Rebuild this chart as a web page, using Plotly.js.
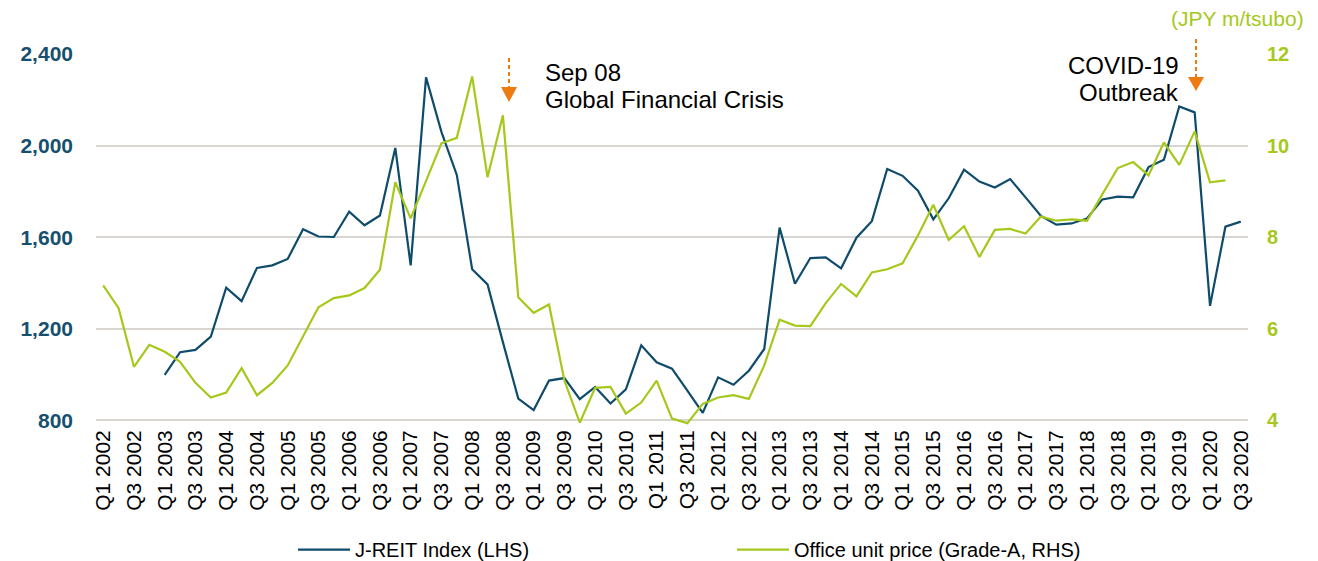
<!DOCTYPE html>
<html>
<head>
<meta charset="utf-8">
<script src="https://cdn.plot.ly/plotly-3.0.1.min.js"></script>
<style>html,body{margin:0;padding:0;background:#fff;}#chart{width:1318px;height:561px;}</style>
</head>
<body>
<div id="chart"></div>
<script>
const quarters = [
"Q1 2002","Q2 2002","Q3 2002","Q4 2002","Q1 2003","Q2 2003","Q3 2003","Q4 2003",
"Q1 2004","Q2 2004","Q3 2004","Q4 2004","Q1 2005","Q2 2005","Q3 2005","Q4 2005",
"Q1 2006","Q2 2006","Q3 2006","Q4 2006","Q1 2007","Q2 2007","Q3 2007","Q4 2007",
"Q1 2008","Q2 2008","Q3 2008","Q4 2008","Q1 2009","Q2 2009","Q3 2009","Q4 2009",
"Q1 2010","Q2 2010","Q3 2010","Q4 2010","Q1 2011","Q2 2011","Q3 2011","Q4 2011",
"Q1 2012","Q2 2012","Q3 2012","Q4 2012","Q1 2013","Q2 2013","Q3 2013","Q4 2013",
"Q1 2014","Q2 2014","Q3 2014","Q4 2014","Q1 2015","Q2 2015","Q3 2015","Q4 2015",
"Q1 2016","Q2 2016","Q3 2016","Q4 2016","Q1 2017","Q2 2017","Q3 2017","Q4 2017",
"Q1 2018","Q2 2018","Q3 2018","Q4 2018","Q1 2019","Q2 2019","Q3 2019","Q4 2019",
"Q1 2020","Q2 2020","Q3 2020"];

const tickLabels = [
"Q1 2002","Q3 2002","Q1 2003","Q3 2003","Q1 2004","Q3 2004","Q1 2005","Q3 2005",
"Q1 2006","Q3 2006","Q1 2007","Q3 2007","Q1 2008","Q3 2008","Q1 2009","Q3 2009",
"Q1 2010","Q3 2010","Q1 2011","Q3 2011","Q1 2012","Q3 2012","Q1 2013","Q3 2013",
"Q1 2014","Q3 2014","Q1 2015","Q3 2015","Q1 2016","Q3 2016","Q1 2017","Q3 2017",
"Q1 2018","Q3 2018","Q1 2019","Q3 2019","Q1 2020","Q3 2020"];

const jreitIndex = [null,null,null,null,
999,1098,1108,1166,1380,1321,1466,1477,1505,1635,1603,1601,1711,1652,1695,1990,
1477,2298,2060,1872,1460,1394,1142,895,845,974,985,893,946,874,936,1128,
1054,1026,930,833,988,956,1017,1112,1642,1397,1509,1512,1464,1598,1670,1898,
1868,1803,1678,1770,1895,1843,1817,1854,1774,1693,1655,1660,1682,1765,1777,1774,
1906,1938,2171,2145,1300,1646,1668];

const officePrice = [
6.95,6.45,5.17,5.65,5.50,5.28,4.82,4.50,4.61,5.14,4.55,4.82,5.20,5.83,6.47,6.67,
6.73,6.89,7.29,9.20,8.41,9.23,10.05,10.17,11.51,9.31,10.66,6.69,6.35,6.53,4.87,3.95,
4.71,4.73,4.15,4.39,4.87,4.04,3.94,4.36,4.50,4.55,4.47,5.20,6.20,6.07,6.06,6.56,
6.98,6.71,7.23,7.30,7.43,8.04,8.71,7.94,8.24,7.57,8.16,8.18,8.08,8.45,8.36,8.39,
8.36,8.94,9.51,9.64,9.35,10.07,9.58,10.31,9.20,9.24,null];

const leftTicks = [800,1200,1600,2000,2400];
const rightTicks = [4,6,8,10,12];

const BLUE = "#0F4C6B";
const GREEN = "#A6C81C";
const ORANGE = "#EE7A12";
const GRID = "#D9D6D1";
const FONT = "Liberation Sans, Arial, sans-serif";

// layout geometry (pixels)
const W = 1318, H = 561;
const PL = 96, PR = 1248, PT = 54, PB = 424.6;
const px = x => (x - PL) / (PR - PL);
const py = y => (PB - y) / (PB - PT);

const traces = [
  {x: quarters, y: jreitIndex, name: "J-REIT Index (LHS)", type: "scatter", mode: "lines",
   line: {color: BLUE, width: 2.2}, yaxis: "y", connectgaps: false},
  {x: quarters, y: officePrice, name: "Office unit price (Grade-A, RHS)", type: "scatter", mode: "lines",
   line: {color: GREEN, width: 2.2}, yaxis: "y2", connectgaps: false}
];

function arrow(xp, y0, y1, y2) {
  return [
    {type: "line", xref: "paper", yref: "paper", x0: px(xp), x1: px(xp), y0: py(y0), y1: py(y1),
     line: {color: ORANGE, width: 2, dash: "4px,3px"}},
    {type: "path", xref: "paper", yref: "paper",
     path: `M ${px(xp-8)} ${py(y1)} L ${px(xp+8)} ${py(y1)} L ${px(xp)} ${py(y2)} Z`,
     fillcolor: ORANGE, line: {width: 0}}
  ];
}

function label(text, x, baseline, anchor, size, color) {
  return {xref: "paper", yref: "paper", x: px(x), y: py(baseline - 0.32 * size),
          xanchor: anchor, yanchor: "middle", text: text, showarrow: false,
          font: {family: FONT, size: size, color: color || "#000"}};
}

const layout = {
  width: W, height: H,
  margin: {l: PL, r: W - PR, t: PT, b: H - PB, pad: 0, autoexpand: false},
  paper_bgcolor: "#fff", plot_bgcolor: "#fff",
  font: {family: FONT, size: 20, color: "#000"},
  showlegend: true,
  legend: {orientation: "h", x: px(293), xanchor: "left", y: py(549), yanchor: "middle",
           font: {family: FONT, size: 20, color: "#000"}, entrywidth: 372, entrywidthmode: "pixels",
           itemwidth: 52, bgcolor: "rgba(0,0,0,0)"},
  xaxis: {type: "category", categoryorder: "array", categoryarray: quarters,
          range: [-0.47, 74.47], tickmode: "array", tickvals: tickLabels, ticktext: tickLabels,
          tickangle: -90, tickfont: {family: FONT, size: 21, color: "#000"}, automargin: false,
          showgrid: false, zeroline: false, showline: false, ticks: "", fixedrange: true},
  yaxis: {range: [780, 2400], tickmode: "array", tickvals: leftTicks, tickformat: ",",
          showgrid: true, gridcolor: GRID, gridwidth: 2, zeroline: false, showline: false, ticks: "",
          ticklabelstandoff: 22, automargin: false,
          tickfont: {family: FONT, size: 21, color: "#17506F", weight: "bold"}},
  yaxis2: {range: [3.9, 12], tickmode: "array", tickvals: rightTicks, overlaying: "y", side: "right",
           showgrid: false, zeroline: false, showline: false, ticks: "", ticklabelstandoff: 18,
           automargin: false,
           tickfont: {family: FONT, size: 20, color: GREEN, weight: "bold"}},
  annotations: [
    label("Sep 08", 543, 80, "left", 24),
    label("Global Financial Crisis", 543, 107, "left", 24),
    label("COVID-19", 1181, 73, "right", 24),
    label("Outbreak", 1181, 100, "right", 24),
    label("(JPY m/tsubo)", 1306, 25, "right", 21, GREEN)
  ],
  shapes: [...arrow(509, 58, 87, 102), ...arrow(1196, 39, 77, 91)]
};

Plotly.newPlot("chart", traces, layout, {displayModeBar: false, staticPlot: true});
</script>
</body>
</html>
